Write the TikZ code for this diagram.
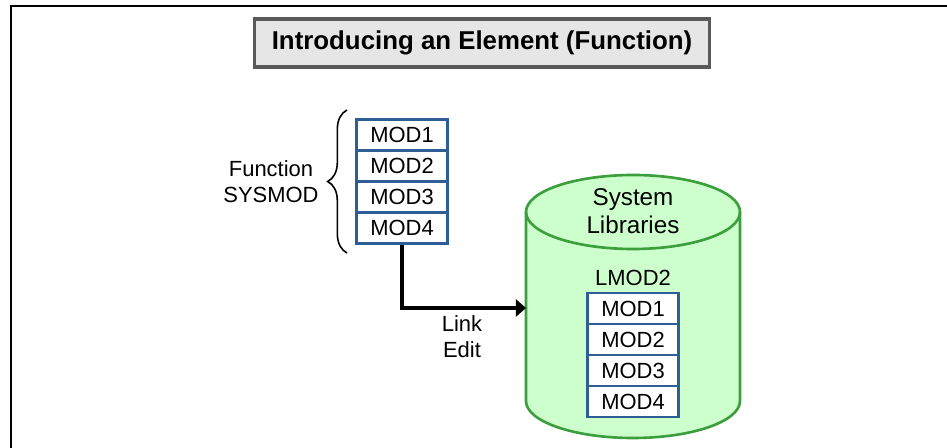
\documentclass[tikz,border=0pt]{standalone}
\usepackage{fontspec}
\setmainfont{Liberation Sans}
\usepackage{tikz}
\usetikzlibrary{arrows.meta,positioning,decorations.pathreplacing}
\definecolor{modblue}{HTML}{2F5E96}
\definecolor{libgreen}{HTML}{3C9E3C}
\definecolor{libfill}{HTML}{CCFFCC}
\definecolor{titlegray}{HTML}{E6E6E6}
\definecolor{titleedge}{HTML}{595959}

\begin{document}
\begin{tikzpicture}[x=0.02cm,y=0.02cm,
  mod/.style={rectangle,draw=modblue,fill=white,line width=1.3pt,
  minimum width=91*0.02cm,minimum height=31*0.02cm,inner sep=0pt,
  font=\fontsize{12.5}{15}\selectfont},
  txt/.style={align=center,font=\fontsize{12.5}{14.7}\selectfont}]
\useasboundingbox (0,0) rectangle (947,-448);
\draw[line width=1pt] (11,-448) -- (11,-6) -- (947,-6);
% title
\node[draw=titleedge,fill=titlegray,line width=1.8pt,minimum width=455*0.02cm,
  minimum height=48*0.02cm,font=\bfseries\fontsize{14.7}{17}\selectfont]
  (title) at (482,-43) {Introducing an Element (Function)};
% function sysmod
\node[mod] (m1) at (402,-135) {MOD1};
\node[mod] (m2) at (402,-166) {MOD2};
\node[mod] (m3) at (402,-197) {MOD3};
\node[mod] (m4) at (402,-228) {MOD4};
\draw[decorate,decoration={brace,amplitude=11pt},line width=0.9pt]
  (347,-253) -- (347,-110);
\node[txt] (fn) at (271,-182) {Function\\SYSMOD};
% system libraries
\fill[libfill] (526,-212) -- (526,-401) arc (180:360:107 and 37)
  -- (740,-212) arc (0:180:107 and 37) -- cycle;
\draw[libgreen,line width=1.5pt] (526,-212) -- (526,-401) arc (180:360:107 and 37)
  -- (740,-212);
\draw[libgreen,line width=1.5pt] (633,-212) ellipse (107 and 37);
\coordinate (lib) at (526,-308);
\node[align=center,font=\fontsize{13.8}{15.9}\selectfont] (sl) at (633,-211)
  {System\\Libraries};
\node[txt] (lmod) at (633,-278) {LMOD2};
\node[mod] (l1) at (633,-308.5) {MOD1};
\node[mod] (l2) at (633,-339.5) {MOD2};
\node[mod] (l3) at (633,-370.5) {MOD3};
\node[mod] (l4) at (633,-401.5) {MOD4};
% link edit
\draw[line width=2pt,-{Triangle[length=5.7pt,width=9.6pt]}] (m4.south) |- (lib);
\node[txt] (le) at (462,-337) {Link\\Edit};
\end{tikzpicture}
\end{document}
